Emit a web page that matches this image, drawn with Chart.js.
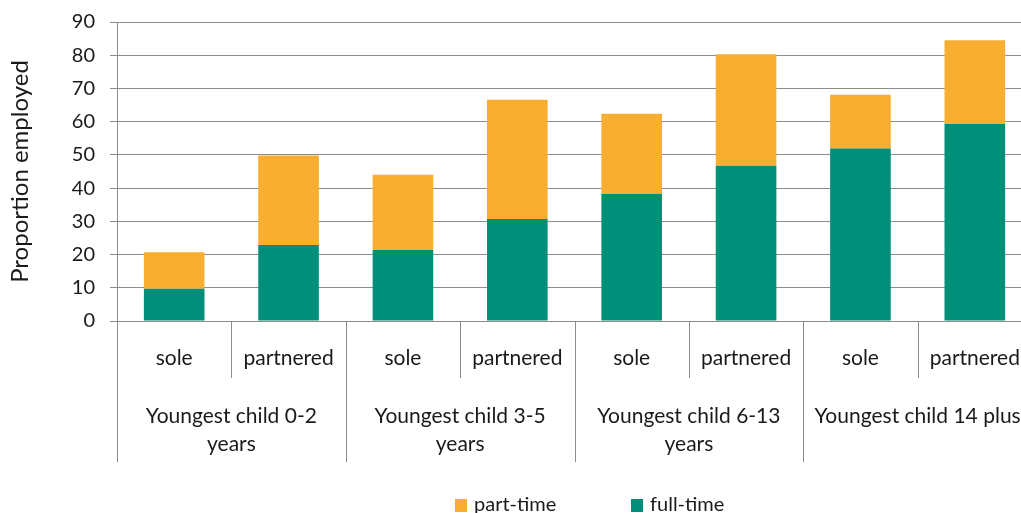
<!DOCTYPE html>
<html>
<head>
<meta charset="utf-8">
<script src="https://cdn.jsdelivr.net/npm/chart.js@4/dist/chart.umd.min.js"></script>
<style>
  html, body { margin: 0; padding: 0; overflow: hidden; background: #fff; }
  #wrap { position: relative; width: 1040px; height: 513px; }
</style>
</head>
<body>
<div id="wrap"><canvas id="c"></canvas></div>
<script>
// ---- data ----
const categories = ['sole', 'partnered', 'sole', 'partnered', 'sole', 'partnered', 'sole', 'partnered'];
const groups = [['Youngest child 0-2', 'years'], ['Youngest child 3-5', 'years'], ['Youngest child 6-13', 'years'], ['Youngest child 14 plus']];
const fullTime = [9.7, 22.9, 21.4, 30.7, 38.2, 46.7, 51.9, 59.3];
const partTime = [11.0, 26.9, 22.6, 35.9, 24.2, 33.6, 16.2, 25.2];
const seriesNames = ['full-time', 'part-time'];
const yTicks = [0, 10, 20, 30, 40, 50, 60, 70, 80, 90];
const yTitle = 'Proportion employed';

// ---- styles ----
const GREEN = '#00907A';
const ORANGE = '#F8AE31';
const GRID = '#8c8c8c';
const TEXT = '#1a1a1a';
const FONT = 'Lato';

const axisLabelsPlugin = {
  id: 'axisLabels',
  afterDraw(chart) {
    const { ctx, chartArea } = chart;
    const x = chart.scales.x;
    const y0 = chartArea.bottom;
    const n = categories.length;
    const half = (x.getPixelForValue(1) - x.getPixelForValue(0)) / 2;
    ctx.save();
    ctx.strokeStyle = GRID;
    ctx.lineWidth = 1;
    for (let i = 0; i <= n; i++) {
      const px = i < n ? x.getPixelForValue(i) - half : x.getPixelForValue(n - 1) + half;
      const len = (i % 2 === 0) ? 141 : 57;
      const xx = Math.round(px) + 0.5;
      ctx.beginPath();
      ctx.moveTo(xx, y0);
      ctx.lineTo(xx, y0 + len);
      ctx.stroke();
    }
    ctx.fillStyle = TEXT;
    ctx.font = '21px ' + FONT;
    ctx.textAlign = 'center';
    ctx.textBaseline = 'middle';
    categories.forEach((c, i) => {
      ctx.fillText(c, x.getPixelForValue(i), y0 + 37);
    });
    groups.forEach((lines, g) => {
      const cx = (x.getPixelForValue(2 * g) + x.getPixelForValue(2 * g + 1)) / 2;
      lines.forEach((ln, k) => {
        ctx.fillText(ln, cx, y0 + 95 + k * 28);
      });
    });
    // legend (part-time first, then full-time)
    const order = [1, 0];
    let lx = 455;
    const ly = 505;
    ctx.font = '20px ' + FONT;
    ctx.textAlign = 'left';
    order.forEach((di) => {
      const ds = chart.data.datasets[di];
      ctx.fillStyle = ds.backgroundColor;
      ctx.fillRect(lx, ly - 6, 12, 13);
      ctx.fillStyle = TEXT;
      ctx.fillText(ds.label, lx + 19, ly);
      lx += 176;
    });
    ctx.restore();
  }
};

new Chart(document.getElementById('c'), {
  type: 'bar',
  data: {
    labels: categories,
    datasets: [
      { label: seriesNames[0], data: fullTime, backgroundColor: GREEN },
      { label: seriesNames[1], data: partTime, backgroundColor: ORANGE }
    ]
  },
  options: {
    responsive: true,
    maintainAspectRatio: false,
    animation: false,
    events: [],
    layout: { padding: { top: 22, right: 8, left: 0, bottom: 0 } },
    datasets: { bar: { categoryPercentage: 1, barPercentage: 0.53 } },
    plugins: { legend: { display: false }, tooltip: { enabled: false } },
    scales: {
      x: {
        stacked: true,
        grid: { display: false },
        border: { display: true, color: GRID, width: 1 },
        ticks: { display: false },
        afterFit: (s) => { s.height = 192; s.paddingLeft = 0; s.paddingRight = 0; }
      },
      y: {
        stacked: true,
        min: 0,
        max: 90,
        afterBuildTicks: (s) => { s.ticks = yTicks.map(v => ({ value: v })); },
        grid: { color: GRID, lineWidth: 1, drawTicks: true, tickLength: 7 },
        border: { display: true, color: GRID, width: 1 },
        ticks: { color: TEXT, font: { family: FONT, size: 20 }, padding: 15 },
        title: { display: true, text: yTitle, color: TEXT, font: { family: FONT, size: 24 }, padding: { top: 6, bottom: 0 } },
        afterFit: (s) => { s.width = 117; s.paddingTop = 0; s.paddingBottom = 0; }
      }
    }
  },
  plugins: [axisLabelsPlugin]
});
</script>
</body>
</html>
